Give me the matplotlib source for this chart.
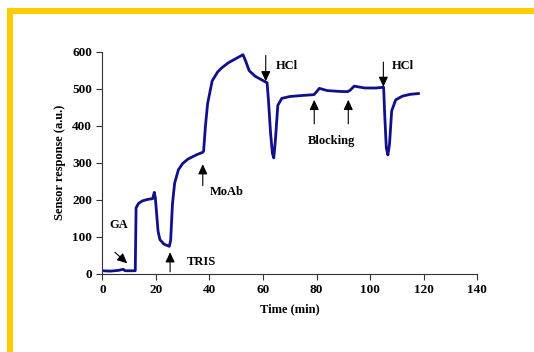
import matplotlib.pyplot as plt
from matplotlib.patches import Rectangle

plt.rcParams['font.family'] = ['Liberation Serif', 'DejaVu Serif']
plt.rcParams['font.weight'] = 'bold'

# sensor trace
time_min = [0, 3, 6, 7.8, 8.5, 11, 12.3, 12.6, 13.5, 15, 17, 18.8, 19.4, 19.8, 20.3,
            20.8, 21.5, 23, 25, 25.5, 26.2, 27, 28.4, 30, 32, 35, 37.4, 37.8, 38.5,
            39.3, 41, 43, 44.5, 47, 50, 52.5, 53.5, 54.8, 57, 60, 61.5, 62, 62.8,
            63.5, 64, 64.6, 65.5, 67, 70, 75, 79, 80, 81, 84, 88, 91.5, 92.5, 94,
            98, 102, 105, 105.4, 106, 106.6, 107.2, 108, 109.5, 112, 115, 118]
response = [8, 7, 9, 12, 8, 8, 8, 178, 190, 197, 201, 203, 220, 205, 160,
            115, 92, 80, 74, 90, 190, 245, 281, 298, 310, 321, 328, 331, 400,
            460, 521, 545, 556, 570, 582, 592, 575, 549, 534, 522, 516, 470, 380,
            325, 313, 360, 455, 474, 479, 482, 484, 492, 501, 495, 493, 492, 496, 507,
            502, 502, 504, 430, 340, 321, 350, 440, 470, 480, 485, 487]

# (label, text x, text y, arrow tail x, tail y, head x, head y)
notes = [
    ('GA', 6, 133, 4.7, 58, 9.3, 28),
    ('TRIS', 36.8, 31, 25.3, 5, 25.3, 58),
    ('MoAb', 46.4, 222, 37.5, 238, 37.5, 296),
    ('HCl', 68.8, 561, 61, 590, 61, 520),
    ('HCl', 112.2, 561, 104.9, 572, 104.9, 505),
    ('Blocking', 85.7, 360, 79.1, 405, 79.1, 470),
]
extra_arrows = [(91.8, 405, 91.8, 470)]

fig = plt.figure(figsize=(5.34, 3.52), dpi=100)
ax = fig.add_axes([0.1916, 0.2224, 0.7024, 0.6306])

ax.plot(time_min, response, color='#10108c', lw=2.0)

arrow_style = dict(arrowstyle='-|>,head_length=0.6,head_width=0.28', color='black',
                   lw=0.8, shrinkA=0, shrinkB=0)
for label, tx, ty, x0, y0, x1, y1 in notes:
    ax.text(tx, ty, label, ha='center', va='center', fontsize=9, fontweight='bold')
    ax.annotate('', xy=(x1, y1), xytext=(x0, y0), arrowprops=arrow_style)
for x0, y0, x1, y1 in extra_arrows:
    ax.annotate('', xy=(x1, y1), xytext=(x0, y0), arrowprops=arrow_style)

ax.set_xlim(0, 140)
ax.set_ylim(0, 600)
ax.set_xticks(range(0, 141, 20))
ax.set_yticks(range(0, 601, 100))
ax.spines['top'].set_visible(False)
ax.spines['right'].set_visible(False)
for s in ('left', 'bottom'):
    ax.spines[s].set_linewidth(0.8)
    ax.spines[s].set_color('#333333')
ax.tick_params(length=4, width=0.8, labelsize=9.5, colors='#333333', labelcolor='black')
for lab in ax.get_xticklabels() + ax.get_yticklabels():
    lab.set_fontweight('bold')
ax.set_xlabel('Time (min)', fontsize=9, fontweight='bold', labelpad=5)
ax.set_ylabel('Sensor response (a.u.)', fontsize=9, fontweight='bold', labelpad=4)

# yellow slide border (top and left edges)
W, H = 534, 352
fig.add_artist(Rectangle((7 / W, 1 - 14 / H), 1, 6 / H, transform=fig.transFigure,
                         color='#ffcc00', lw=0))
fig.add_artist(Rectangle((7 / W, 0), 5.5 / W, 1 - 8 / H, transform=fig.transFigure,
                         color='#ffcc00', lw=0))

fig.savefig('out.png', dpi=100)
